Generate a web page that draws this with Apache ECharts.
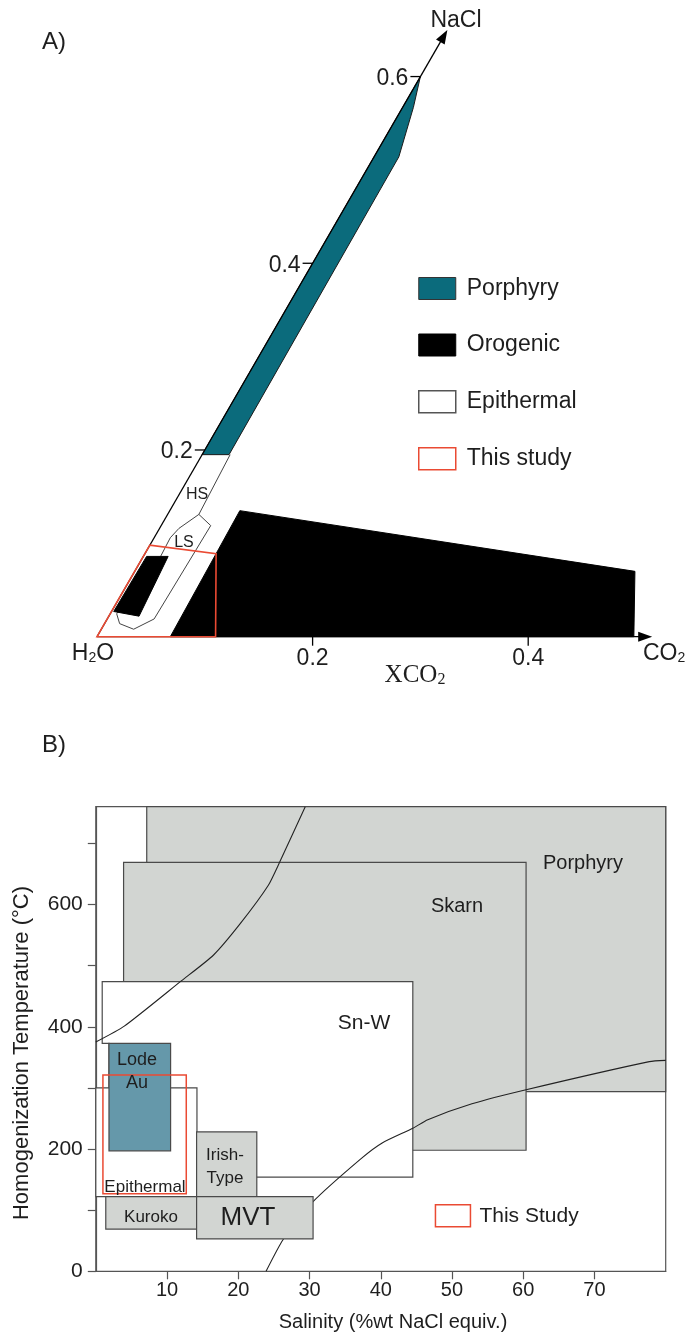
<!DOCTYPE html>
<html>
<head>
<meta charset="utf-8">
<script src="https://cdn.jsdelivr.net/npm/echarts@6/dist/echarts.min.js"></script>
<style>
  html, body { margin: 0; padding: 0; background: #fff; }
  #main { width: 688px; height: 1337px; }
</style>
</head>
<body>
<div id="main"></div>
<script>
// ---- Panel A: H2O - CO2 - NaCl ternary, points are [XCO2, XNaCl] ----
const A_PORPHYRY = [[0, 0.6], [0.010, 0.567], [0.023, 0.514], [0.025, 0.195], [0, 0.195]];
const A_OROGENIC_FIELD = [[0.068, 0], [0.065, 0.135], [0.464, 0.070], [0.498, 0]];
const A_OROGENIC_SMALL = [[0.003, 0.086], [0.023, 0.086], [0.028, 0.022], [0.002, 0.027]];
const A_EPITHERMAL_HS = [[0.026, 0.195], [0.029, 0.131]];
const A_EPITHERMAL_LS = [[0.029, 0.131], [0.046, 0.119], [0.0435, 0.019], [0.030, 0.008],
  [0.014, 0.014], [0.006, 0.0245], [0.016, 0.086], [0.015, 0.106], [0.018, 0.116]];
const A_THIS_STUDY = [[0, 0], [0, 0.098], [0.066, 0.089], [0.110, 0]];
const A_XCO2_TICKS = [0.2, 0.4];
const A_NACL_TICKS = [0.2, 0.4, 0.6];
const A_AXIS_END = [0.515, 0.65]; // XCO2 arrow, NaCl arrow

// ---- Panel B: salinity (wt% NaCl eq.) vs homogenization temperature ----
// rectangles are [xMin, xMax, yMin, yMax]
const B_X_TICKS = [10, 20, 30, 40, 50, 60, 70];
const B_Y_TICKS = [0, 100, 200, 300, 400, 500, 600, 700];
const B_Y_LABELS = [0, 200, 400, 600];
const B_PORPHYRY = [[7.15, 80, 294, 760]];
const B_SKARN = [[3.9, 60.4, 198, 669]];
const B_SNW = [[0.9, 474], [44.5, 474], [44.5, 154], [1.85, 154], [1.85, 373], [0.9, 373]];
const B_EPITHERMAL = [[0, 14.2, 122, 300]];
const B_LODE_AU = [[1.85, 10.5, 197, 373]];
const B_KUROKO = [[1.4, 14.15, 69, 122]];
const B_IRISH = [[14.15, 22.6, 122, 228]];
const B_MVT = [[14.15, 30.5, 53, 122]];
const B_THIS_STUDY = [[1.0, 12.7, 127, 321]];
const B_CURVE_UPPER = [[0, 375], [4, 401], [12, 475], [16.5, 517], [20.3, 569], [24.2, 631], [25.8, 669], [29.4, 760]];
const B_CURVE_LOWER = [[23.9, 0], [26.3, 52], [30.5, 114], [37.2, 184], [40.2, 210], [44.5, 234],
  [46.6, 248], [52.8, 274], [60.4, 297], [77.7, 343], [80, 345]];

const FONT = '"Liberation Sans", Arial, Helvetica, sans-serif';
const TEAL = '#0b6b7c';
const LODE = '#6598aa';
const GRAY = '#d2d5d2';
const EDGE = '#4a4a4a';
const RED = '#ea4a33';
const TXT = '#1e1e1e';

// ternary -> cartesian (60 degree skew)
function tern(p) {
  return [p[0] + p[1] * 0.5, p[1] * Math.sqrt(3) / 2];
}

function ternSeries(name, pts, style, z, closed) {
  return {
    type: 'custom', name: name, xAxisIndex: 0, yAxisIndex: 0, z: z, silent: true,
    itemStyle: { color: style.fill || '#fff', borderColor: style.stroke, borderWidth: style.lineWidth },
    data: [0],
    renderItem: function (params, api) {
      const points = pts.map(function (p) { return api.coord(tern(p)); });
      return {
        type: closed ? 'polygon' : 'polyline',
        shape: { points: points },
        style: {
          fill: closed ? style.fill : null,
          stroke: style.stroke || null,
          lineWidth: style.lineWidth || 0
        }
      };
    }
  };
}

function rectSeries(name, rows, style, z) {
  return {
    type: 'custom', name: name, xAxisIndex: 1, yAxisIndex: 1, z: z, silent: true,
    itemStyle: { color: style.fill, borderColor: style.stroke, borderWidth: style.lineWidth },
    encode: { x: [0, 1], y: [2, 3] },
    data: rows,
    renderItem: function (params, api) {
      const a = api.coord([api.value(0), api.value(3)]);
      const b = api.coord([api.value(1), api.value(2)]);
      return {
        type: 'rect',
        shape: { x: a[0], y: a[1], width: b[0] - a[0], height: b[1] - a[1] },
        style: { fill: style.fill, stroke: style.stroke, lineWidth: style.lineWidth }
      };
    }
  };
}

function arrowHead(tip, dir) {
  const len = 14, half = 5;
  const bx = tip[0] - dir[0] * len, by = tip[1] - dir[1] * len;
  return {
    type: 'polygon',
    shape: { points: [tip, [bx - dir[1] * half, by + dir[0] * half], [bx + dir[1] * half, by - dir[0] * half]] },
    style: { fill: '#000' }
  };
}

// ternary axes (XCO2 horizontal, NaCl along the 60 degree edge)
const ternAxes = {
  type: 'custom', xAxisIndex: 0, yAxisIndex: 0, z: 8, silent: true, data: [0],
  renderItem: function (params, api) {
    const o = api.coord(tern([0, 0]));
    const xe = api.coord(tern([A_AXIS_END[0], 0]));
    const ne = api.coord(tern([0, A_AXIS_END[1]]));
    const line = { stroke: '#000', lineWidth: 1.3 };
    const dn = [ne[0] - o[0], ne[1] - o[1]];
    const dl = Math.hypot(dn[0], dn[1]);
    const children = [
      { type: 'line', shape: { x1: o[0], y1: o[1], x2: xe[0] - 6, y2: xe[1] }, style: line },
      { type: 'line', shape: { x1: o[0], y1: o[1], x2: ne[0] - dn[0] / dl * 6, y2: ne[1] - dn[1] / dl * 6 }, style: line },
      arrowHead(xe, [1, 0]),
      arrowHead(ne, [dn[0] / dl, dn[1] / dl])
    ];
    A_XCO2_TICKS.forEach(function (t) {
      const p = api.coord(tern([t, 0]));
      children.push({ type: 'line', shape: { x1: p[0], y1: p[1], x2: p[0], y2: p[1] + 9 }, style: line });
      children.push({ type: 'text', x: p[0], y: p[1] + 22,
        style: { text: String(t), font: '23px ' + FONT, fill: TXT, align: 'center', verticalAlign: 'middle' } });
    });
    A_NACL_TICKS.forEach(function (t) {
      const p = api.coord(tern([0, t]));
      children.push({ type: 'line', shape: { x1: p[0], y1: p[1], x2: p[0] - 10, y2: p[1] }, style: line });
      children.push({ type: 'text', x: p[0] - 12, y: p[1] + 2,
        style: { text: String(t), font: '23px ' + FONT, fill: TXT, align: 'right', verticalAlign: 'middle' } });
    });
    return { type: 'group', children: children };
  }
};

function label(x, y, text, size, extra) {
  return Object.assign({
    type: 'text', x: x, y: y, silent: true, z: 50,
    style: { text: text, font: size + 'px ' + FONT, fill: TXT, align: 'center', verticalAlign: 'middle' }
  }, extra || {});
}

function subLabel(x, y, parts, size, family, align) {
  return {
    type: 'text', x: x, y: y, silent: true, z: 50,
    style: {
      text: parts, align: align || 'center', verticalAlign: 'middle', fill: TXT,
      rich: {
        a: { fontSize: size, fontFamily: family, lineHeight: size + 4, verticalAlign: 'bottom', fill: TXT },
        s: { fontSize: Math.round(size * 0.62), fontFamily: family, verticalAlign: 'bottom', fill: TXT }
      }
    }
  };
}

const chart = echarts.init(document.getElementById('main'), null, { renderer: 'canvas' });

const axisLineB = { lineStyle: { color: '#555', width: 1.2 } };

chart.setOption({
  backgroundColor: '#fff',
  animation: false,
  grid: [
    { left: 97, top: 43.8, width: 539, height: 592.9, show: false },
    { left: 95.8, right: 22.3, top: 806.7, bottom: 65.7, show: true, borderColor: '#555', borderWidth: 1.2 }
  ],
  xAxis: [
    { gridIndex: 0, type: 'value', min: 0, max: 0.5, show: false },
    {
      gridIndex: 1, type: 'value', min: 0, max: 80, interval: 10,
      axisLine: axisLineB,
      axisTick: { show: true, length: 8, customValues: B_X_TICKS, lineStyle: { color: '#555', width: 1.2 } },
      axisLabel: {
        customValues: B_X_TICKS, fontSize: 20, fontFamily: FONT, color: TXT, margin: 9,
        formatter: function (v) { return B_X_TICKS.indexOf(v) >= 0 ? String(v) : ''; }
      },
      splitLine: { show: false }
    }
  ],
  yAxis: [
    { gridIndex: 0, type: 'value', min: 0, max: 0.55, show: false },
    {
      gridIndex: 1, type: 'value', min: 0, max: 760, interval: 100,
      axisLine: axisLineB,
      axisTick: { show: true, length: 8, customValues: B_Y_TICKS, lineStyle: { color: '#555', width: 1.2 } },
      axisLabel: {
        customValues: B_Y_LABELS, fontSize: 21, fontFamily: FONT, color: TXT, margin: 13,
        formatter: function (v) { return B_Y_LABELS.indexOf(v) >= 0 ? String(v) : ''; }
      },
      splitLine: { show: false }
    }
  ],
  legend: [
    {
      orient: 'vertical', left: 418, top: 277, padding: 0, itemWidth: 37, itemHeight: 22, itemGap: 33.5,
      selectedMode: false,
      textStyle: { fontSize: 23, fontFamily: FONT, color: TXT, lineHeight: 22, padding: [0, 0, 0, 6] },
      data: [
        { name: 'Porphyry', icon: 'rect', itemStyle: { color: TEAL, borderColor: '#333', borderWidth: 1 } },
        { name: 'Orogenic', icon: 'rect', itemStyle: { color: '#000', borderColor: '#000', borderWidth: 1 } },
        { name: 'Epithermal', icon: 'rect', itemStyle: { color: '#fff', borderColor: '#555', borderWidth: 1.5 } },
        { name: 'This study', icon: 'rect', itemStyle: { color: '#fff', borderColor: RED, borderWidth: 1.5 } }
      ]
    },
    {
      orient: 'vertical', left: 434.7, top: 1204, padding: 0, itemWidth: 35, itemHeight: 22,
      selectedMode: false,
      textStyle: { fontSize: 21, fontFamily: FONT, color: TXT, lineHeight: 22, padding: [0, 0, 0, 4] },
      data: [
        { name: 'This Study', icon: 'rect', itemStyle: { color: '#fff', borderColor: RED, borderWidth: 1.5 } }
      ]
    }
  ],
  series: [
    // panel A
    ternSeries('Orogenic', A_OROGENIC_FIELD, { fill: '#000', stroke: '#000', lineWidth: 1 }, 2, true),
    ternSeries('Epithermal', A_EPITHERMAL_LS, { fill: '#fff', stroke: '#444', lineWidth: 1 }, 3, true),
    ternSeries('Epithermal', A_EPITHERMAL_HS, { stroke: '#444', lineWidth: 1 }, 3, false),
    ternSeries('Orogenic', A_OROGENIC_SMALL, { fill: '#000', stroke: '#000', lineWidth: 1 }, 4, true),
    ternSeries('Porphyry', A_PORPHYRY, { fill: TEAL, stroke: '#1a1a1a', lineWidth: 1 }, 5, true),
    ternAxes,
    ternSeries('This study', A_THIS_STUDY, { fill: null, stroke: RED, lineWidth: 1.6 }, 10, true),

    // panel B
    rectSeries('Porphyry B', B_PORPHYRY, { fill: GRAY, stroke: EDGE, lineWidth: 1.2 }, 2),
    rectSeries('Skarn', B_SKARN, { fill: GRAY, stroke: EDGE, lineWidth: 1.2 }, 3),
    {
      type: 'custom', name: 'Sn-W', xAxisIndex: 1, yAxisIndex: 1, z: 4, silent: true, data: [0],
      renderItem: function (params, api) {
        return {
          type: 'polygon',
          shape: { points: B_SNW.map(function (p) { return api.coord(p); }) },
          style: { fill: '#fff', stroke: EDGE, lineWidth: 1.2 }
        };
      }
    },
    {
      type: 'line', name: 'curve1', xAxisIndex: 1, yAxisIndex: 1, z: 5, silent: true,
      data: B_CURVE_UPPER, symbol: 'none', smooth: 0.2, lineStyle: { color: '#222', width: 1.1 }
    },
    {
      type: 'line', name: 'curve2', xAxisIndex: 1, yAxisIndex: 1, z: 5, silent: true,
      data: B_CURVE_LOWER, symbol: 'none', smooth: 0.2, lineStyle: { color: '#222', width: 1.1 }
    },
    rectSeries('Epithermal B', B_EPITHERMAL, { fill: '#fff', stroke: EDGE, lineWidth: 1.2 }, 6),
    rectSeries('Lode Au', B_LODE_AU, { fill: LODE, stroke: EDGE, lineWidth: 1.2 }, 7),
    rectSeries('Kuroko', B_KUROKO, { fill: GRAY, stroke: EDGE, lineWidth: 1.2 }, 8),
    rectSeries('Irish-Type', B_IRISH, { fill: GRAY, stroke: EDGE, lineWidth: 1.2 }, 8),
    rectSeries('MVT', B_MVT, { fill: GRAY, stroke: EDGE, lineWidth: 1.2 }, 9),
    rectSeries('This Study', B_THIS_STUDY, { fill: 'rgba(0,0,0,0)', stroke: RED, lineWidth: 1.5 }, 10)
  ],
  graphic: [
    label(54, 42, 'A)', 24),
    label(456, 21, 'NaCl', 23),
    subLabel(93, 652, '{a|H}{s|2}{a|O}', 23, FONT),
    subLabel(643, 652, '{a|CO}{s|2}', 23, FONT, 'left'),
    subLabel(415, 673, '{a|XCO}{s|2}', 25, '"Liberation Serif", "Times New Roman", serif'),
    label(197, 494.5, 'HS', 16),
    label(184, 542.5, 'LS', 16),

    label(54, 745, 'B)', 24),
    label(22, 1053, 'Homogenization Temperature (°C)', 22, { rotation: Math.PI / 2 }),
    label(393, 1322, 'Salinity (%wt NaCl equiv.)', 20),
    label(583, 863, 'Porphyry', 20),
    label(457, 906, 'Skarn', 20),
    label(364, 1023, 'Sn-W', 21),
    label(137, 1060, 'Lode', 18),
    label(137, 1083, 'Au', 18),
    label(145, 1187, 'Epithermal', 17),
    label(225, 1155, 'Irish-', 17),
    label(225, 1178, 'Type', 17),
    label(151, 1217, 'Kuroko', 17),
    label(248, 1218, 'MVT', 26)
  ]
});
</script>
</body>
</html>
